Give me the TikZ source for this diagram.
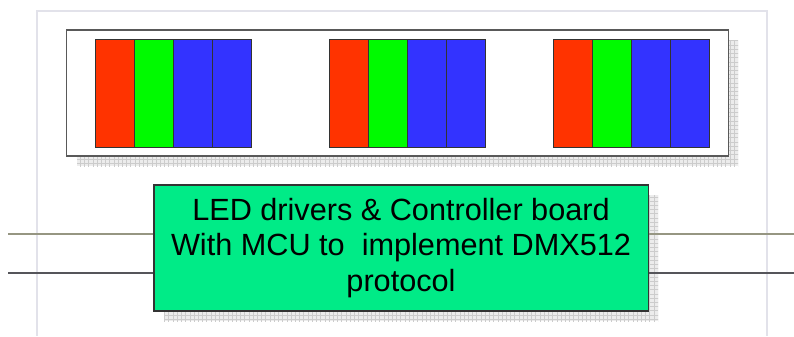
\documentclass[tikz,border=0pt]{standalone}
\usepackage{fontspec}
\setmainfont{Liberation Sans}
\usepackage{xcolor}
\usepackage{tikz}
\usetikzlibrary{patterns}

\definecolor{ledred}{RGB}{255,51,0}
\definecolor{ledgreen}{RGB}{0,250,0}
\definecolor{ledblue}{RGB}{51,51,255}
\definecolor{boardgreen}{RGB}{0,235,135}
\definecolor{framegray}{RGB}{226,226,234}
\definecolor{wireolive}{RGB}{150,150,130}
\definecolor{wiregray}{RGB}{85,85,90}

\begin{document}
\begin{tikzpicture}[x=0.025cm, y=-0.025cm,
    shadowbox/.style={fill=gray!12, pattern=grid, pattern color=gray!40},
    ledbar/.style={draw=black!80, line width=0.6pt},
    wire/.style={line width=0.8pt}]
\useasboundingbox (0,0) rectangle (794,336);
% Draw page frame
\draw[framegray, line width=1pt] (37,336) -- (37,11) -- (767,11) -- (767,336);

% Draw LED panel
\fill[gray!15] (77,40) rectangle (738,166);
\fill[shadowbox] (77,40) rectangle (738,166);
\node[draw=black!65, fill=white, line width=0.8pt, minimum width=16.525cm,
      minimum height=3.15cm, inner sep=0pt] (panel) at (397.5,93) {};
\foreach \g in {95,329,553} {
    \foreach \i/\c in {0/ledred,1/ledgreen,2/ledblue,3/ledblue} {
        \draw[ledbar, fill=\c] (\g+\i*39,39) rectangle ++(39,108);
    }
}

% Draw controller board
\fill[gray!15] (164,195) rectangle (658,321);
\fill[shadowbox] (164,195) rectangle (658,321);
\node[draw=black!80, fill=boardgreen, line width=0.8pt, minimum width=12.35cm,
      minimum height=3.15cm, inner sep=0pt, align=center,
      font=\fontsize{21.8}{25.4}\selectfont] (board) at (401,248)
      {LED drivers \& Controller board\\With MCU to\ \ implement DMX512\\protocol};

% Draw wires
\coordinate (inA) at (8,234);
\coordinate (inB) at (8,273);
\coordinate (outA) at (794,234);
\coordinate (outB) at (794,273);
\draw[wire, wireolive] (inA) -- (board.west |- inA);
\draw[wire, wiregray] (inB) -- (board.west |- inB);
\draw[wire, wireolive] (board.east |- outA) -- (outA);
\draw[wire, wiregray] (board.east |- outB) -- (outB);
\end{tikzpicture}
\end{document}
